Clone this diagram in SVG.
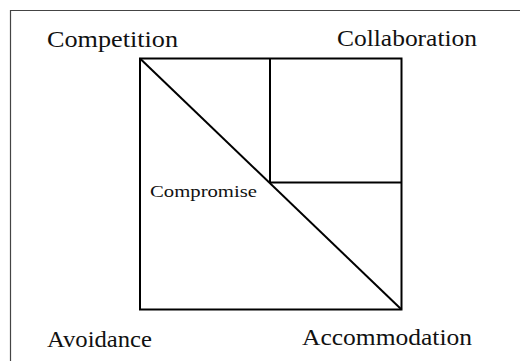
<svg xmlns="http://www.w3.org/2000/svg" width="520" height="361" viewBox="0 0 520 361">
<style>
.frame{stroke:#444;stroke-width:1.2;fill:none}
.box{stroke:#000;stroke-width:2;fill:none}
.ln{stroke:#000;stroke-width:2;fill:none}
.lbl{font-family:"Liberation Serif","Times New Roman",serif;font-size:24px;fill:#111}
.sm{font-family:"Liberation Serif","Times New Roman",serif;font-size:17px;fill:#111}
</style>
<rect width="520" height="361" fill="#fff"/>
<g id="frame">
<line class="frame" x1="10" y1="10.5" x2="520" y2="10.5"/>
<line class="frame" x1="10.5" y1="10" x2="10.5" y2="361"/>
</g>
<g id="grid">
<rect class="box" x="140" y="58.5" width="261.5" height="251"/>
</g>
<g id="collaboration-box">
<line class="ln" x1="270" y1="58.5" x2="270" y2="182.5"/>
<line class="ln" x1="270" y1="182.5" x2="401.5" y2="182.5"/>
</g>
<g id="connectors">
<line class="ln" x1="140" y1="58.5" x2="401.5" y2="309.5"/>
</g>
<g id="competition"><text class="lbl" x="47" y="47" textLength="131" lengthAdjust="spacingAndGlyphs">Competition</text></g>
<g id="collaboration"><text class="lbl" x="337" y="46" textLength="140" lengthAdjust="spacingAndGlyphs">Collaboration</text></g>
<g id="compromise"><text class="sm" x="150" y="197" textLength="107" lengthAdjust="spacingAndGlyphs">Compromise</text></g>
<g id="avoidance"><text class="lbl" x="47" y="346.5" textLength="105" lengthAdjust="spacingAndGlyphs">Avoidance</text></g>
<g id="accommodation"><text class="lbl" x="302" y="345" textLength="170" lengthAdjust="spacingAndGlyphs">Accommodation</text></g>
</svg>
